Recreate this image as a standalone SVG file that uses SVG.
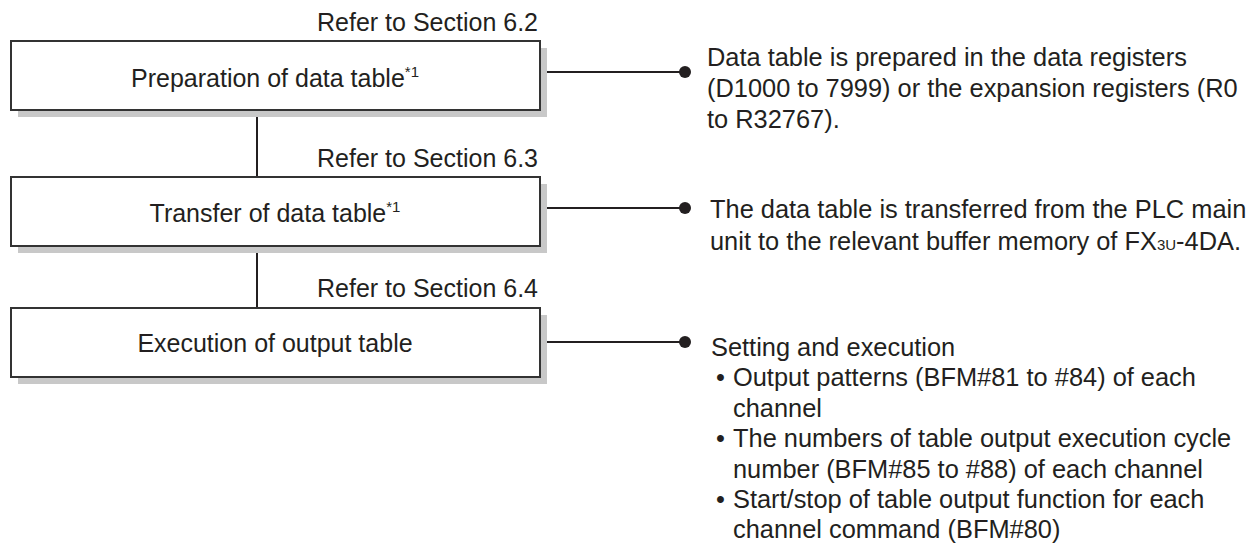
<svg xmlns="http://www.w3.org/2000/svg" width="1257" height="543" viewBox="0 0 1257 543">
<style>
  text { font-family: "Liberation Sans", Arial, sans-serif; fill: #231f20; }
  .t { font-size: 25px; }
  .n { font-size: 25.4px; }
  .ref { font-size: 25px; text-anchor: end; }
  .box { fill: #ffffff; stroke: #333333; stroke-width: 2; }
  .shadow { fill: #c8c8c8; }
  .line { stroke: #231f20; stroke-width: 2; fill: none; }
  .dot { fill: #231f20; }
  .sup { font-size: 15px; }
  .sub { font-size: 15px; }
</style>
<rect width="1257" height="543" fill="#ffffff"/>
<g id="connectors">
  <line class="line" x1="257" y1="117" x2="257" y2="177"/>
  <line class="line" x1="257" y1="253" x2="257" y2="308"/>
  <line class="line" x1="547" y1="72" x2="685" y2="72"/>
  <circle class="dot" cx="685" cy="72" r="6"/>
  <line class="line" x1="547" y1="208" x2="685" y2="208"/>
  <circle class="dot" cx="685" cy="208" r="6"/>
  <line class="line" x1="547" y1="342" x2="685" y2="342"/>
  <circle class="dot" cx="685" cy="342" r="6"/>
</g>
<g id="node-preparation">
  <text class="ref" x="538" y="31">Refer to Section 6.2</text>
  <rect class="shadow" x="18" y="48" width="529" height="69"/>
  <rect class="box" x="11" y="41" width="529" height="69"/>
  <text class="t" x="275" y="87" text-anchor="middle">Preparation of data table<tspan class="sup" dy="-10">*1</tspan></text>
</g>
<g id="node-transfer">
  <text class="ref" x="538" y="167">Refer to Section 6.3</text>
  <rect class="shadow" x="18" y="184" width="529" height="69"/>
  <rect class="box" x="11" y="177" width="529" height="69"/>
  <text class="t" x="275" y="222" text-anchor="middle">Transfer of data table<tspan class="sup" dy="-10">*1</tspan></text>
</g>
<g id="node-execution">
  <text class="ref" x="538" y="297">Refer to Section 6.4</text>
  <rect class="shadow" x="18" y="315" width="529" height="69"/>
  <rect class="box" x="11" y="308" width="529" height="69"/>
  <text class="t" x="275" y="352" text-anchor="middle">Execution of output table</text>
</g>
<g id="note-preparation">
  <text class="n" x="707" y="66">Data table is prepared in the data registers</text>
  <text class="n" x="707" y="97">(D1000 to 7999) or the expansion registers (R0</text>
  <text class="n" x="707" y="128">to R32767).</text>
</g>
<g id="note-transfer">
  <text class="n" x="710" y="218">The data table is transferred from the PLC main</text>
  <text class="n" x="710" y="250">unit to the relevant buffer memory of FX<tspan class="sub">3U</tspan>-4DA.</text>
</g>
<g id="note-execution">
  <text class="n" x="711" y="356">Setting and execution</text>
  <text class="n" x="716" y="386">•</text>
  <text class="n" x="733" y="386">Output patterns (BFM#81 to #84) of each</text>
  <text class="n" x="733" y="417">channel</text>
  <text class="n" x="716" y="447">•</text>
  <text class="n" x="733" y="447">The numbers of table output execution cycle</text>
  <text class="n" x="733" y="478">number (BFM#85 to #88) of each channel</text>
  <text class="n" x="716" y="508">•</text>
  <text class="n" x="733" y="508">Start/stop of table output function for each</text>
  <text class="n" x="733" y="538">channel command (BFM#80)</text>
</g>
</svg>
